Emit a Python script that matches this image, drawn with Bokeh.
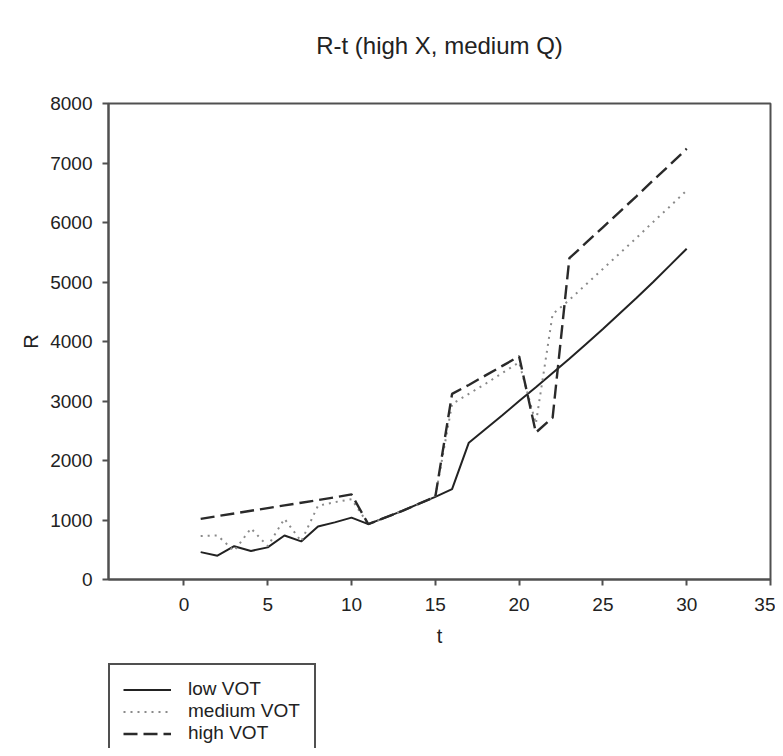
from bokeh.plotting import figure
from bokeh.models import Range1d, FixedTicker, Legend, LegendItem
from bokeh.layouts import column
from bokeh.embed import file_html
from bokeh.resources import INLINE

t = list(range(1, 31))
low_vot = [460, 400, 560, 480, 540, 740, 640, 890, 960, 1040,
           930, 1040, 1150, 1270, 1390, 1520, 2300, 2530, 2760, 3000,
           3230, 3470, 3710, 3960, 4210, 4470, 4730, 5000, 5280, 5560]
medium_vot = [730, 740, 480, 860, 560, 1020, 640, 1240, 1300, 1350,
              930, 1040, 1150, 1270, 1390, 2950, 3120, 3290, 3470, 3650,
              2620, 4460, 4700, 4960, 5220, 5480, 5740, 6010, 6270, 6540]
high_vot = [1020, 1065, 1110, 1155, 1200, 1245, 1290, 1335, 1380, 1430,
            930, 1040, 1150, 1270, 1390, 3120, 3270, 3430, 3590, 3750,
            2470, 2720, 5400, 5660, 5920, 6180, 6440, 6710, 6970, 7240]
series_labels = ["low VOT", "medium VOT", "high VOT"]
x_ticks = [0, 5, 10, 15, 20, 25, 30, 35]
y_ticks = [0, 1000, 2000, 3000, 4000, 5000, 6000, 7000, 8000]

FONT = "Liberation Sans"
AX = "#505050"
STYLES = [dict(line_color="#222222", line_width=2),
          dict(line_color="#8a8a8a", line_width=2, line_dash="2 5"),
          dict(line_color="#2a2a2a", line_width=2.4, line_dash="14 6")]

# title strip
p0 = figure(width=775, height=70, output_backend="svg", toolbar_location=None,
            x_range=Range1d(0, 1), y_range=Range1d(0, 1),
            min_border_left=108, min_border_right=5, min_border_top=63,
            min_border_bottom=0)
p0.axis.visible = False
p0.grid.visible = False
p0.outline_line_color = None
p0.title.text = "R-t (high X, medium Q)"
p0.title.align = "center"
p0.title.text_font = FONT
p0.title.text_font_size = "24px"
p0.title.text_font_style = "normal"
p0.title.text_color = "#222222"
p0.title.standoff = 10

# main chart
p = figure(width=775, height=593, output_backend="svg", toolbar_location=None,
           title=None,
           x_range=Range1d(-4.5, 35), y_range=Range1d(0, 8000),
           min_border_left=108, min_border_right=5, min_border_top=33,
           min_border_bottom=84)
xa = p.below[0]
ya = p.left[0]

p.grid.visible = False
p.outline_line_color = AX
p.outline_line_width = 2
p.outline_line_alpha = 1

for ax in (xa, ya):
    ax.axis_line_color = AX
    ax.axis_line_width = 2
    ax.major_tick_line_color = AX
    ax.major_tick_line_width = 2
    ax.major_tick_out = 6
    ax.major_tick_in = 0
    ax.minor_tick_out = 0
    ax.minor_tick_in = 0
    ax.major_label_text_font = FONT
    ax.major_label_text_font_size = "19px"
    ax.major_label_text_color = "#222222"
    ax.axis_label_text_font = FONT
    ax.axis_label_text_font_size = "20px"
    ax.axis_label_text_font_style = "normal"
    ax.axis_label_text_color = "#222222"

xa.ticker = FixedTicker(ticks=x_ticks)
ya.ticker = FixedTicker(ticks=y_ticks)
xa.axis_label = "t"
ya.axis_label = "R"
xa.major_label_standoff = 12
ya.major_label_standoff = 10
xa.axis_label_standoff = 11
ya.axis_label_standoff = 5

series = [low_vot, medium_vot, high_vot]
for y, st in zip(series, STYLES):
    p.line(t, y, **st)

# legend panel below the chart (its lines fall outside this panel's ranges)
p2 = figure(width=775, height=85, output_backend="svg", toolbar_location=None,
            x_range=Range1d(100, 101), y_range=Range1d(100000, 100001),
            min_border_left=107, min_border_right=0, min_border_top=0,
            min_border_bottom=0)
p2.axis.visible = False
p2.grid.visible = False
p2.outline_line_color = None
items = []
for lab, y, st in zip(series_labels, series, STYLES):
    r = p2.line(t, y, **st)
    items.append(LegendItem(label=lab, renderers=[r]))

legend = Legend(items=items, location="top_left", orientation="vertical",
                label_text_font=FONT, label_text_font_size="19px",
                label_text_color="#222222",
                label_height=21, glyph_height=21, glyph_width=48,
                label_standoff=17, label_width=113, padding=13, spacing=0,
                margin=0, border_line_color=AX, border_line_width=2,
                border_line_alpha=1, background_fill_alpha=1)
p2.add_layout(legend, "center")

page = column(p0, p, p2, spacing=0)
open("out.html", "w").write(file_html(page, INLINE))
